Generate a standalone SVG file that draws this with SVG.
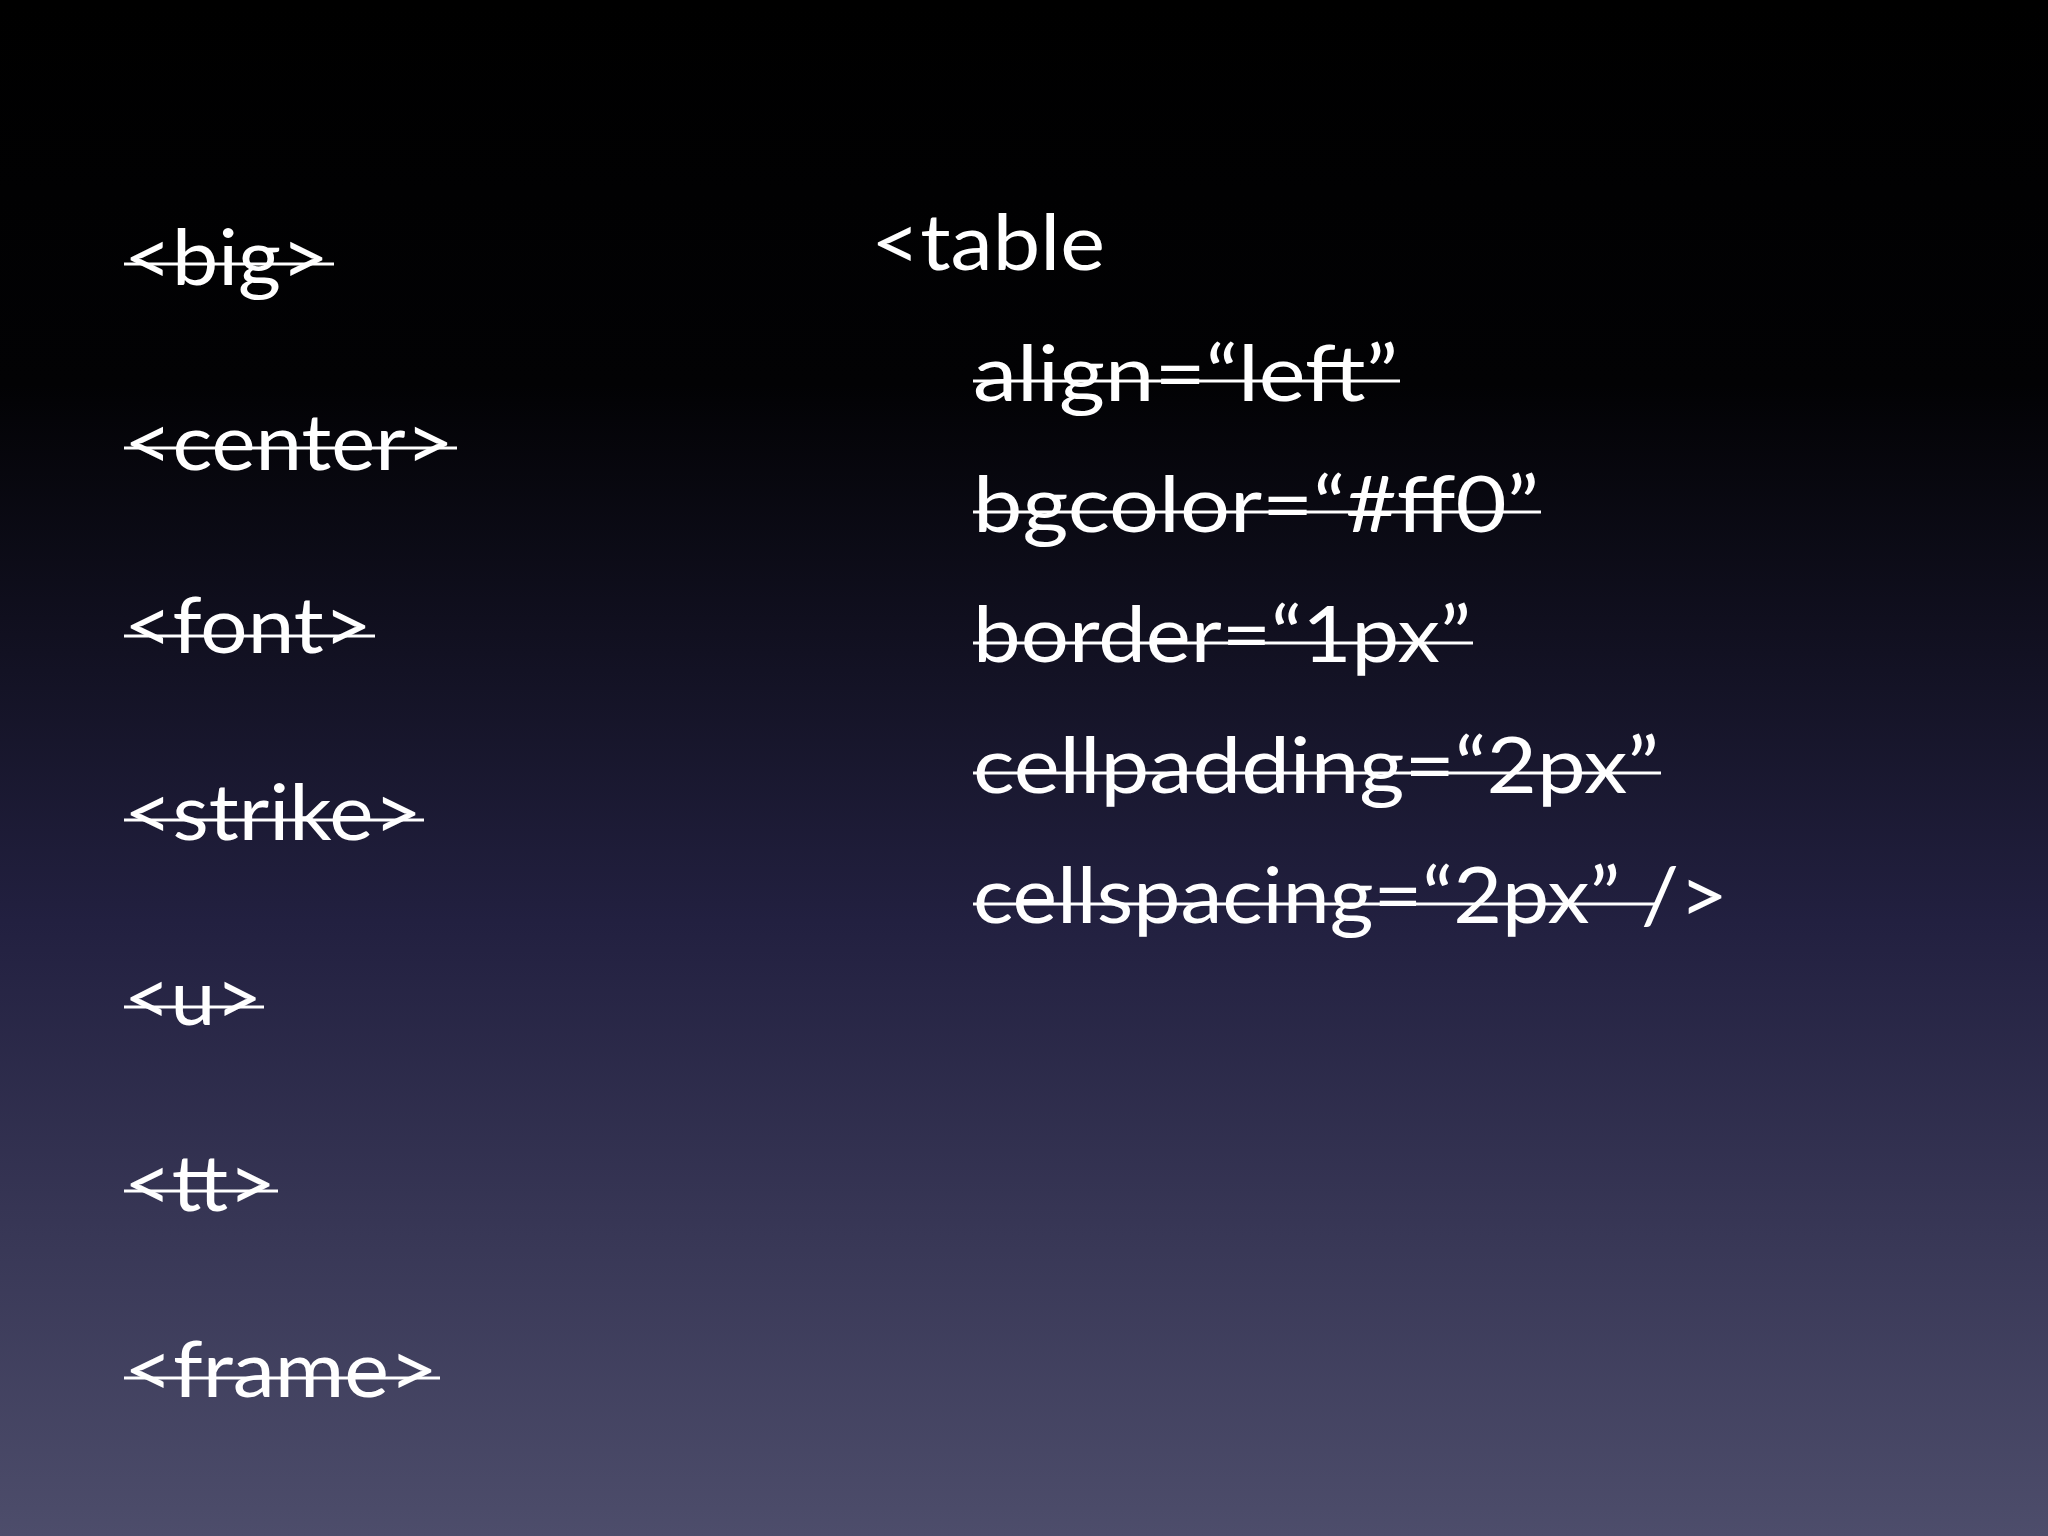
<svg xmlns="http://www.w3.org/2000/svg" width="2048" height="1536" viewBox="0 0 2048 1536">
<defs>
<linearGradient id="bg" x1="0" y1="0" x2="0" y2="1">
<stop offset="0" stop-color="#000000"/>
<stop offset="0.25" stop-color="#020204"/>
<stop offset="0.6" stop-color="#222040"/>
<stop offset="1" stop-color="#4d4d6b"/>
</linearGradient>
</defs>
<style>
text{font-family:"Lato","Open Sans",sans-serif;font-size:78px;fill:#fff}
line{stroke:#fff;stroke-width:3}
</style>
<rect width="2048" height="1536" fill="url(#bg)"/>
<g id="left">
<text x="124" y="285" textLength="205" lengthAdjust="spacingAndGlyphs">&lt;big&gt;</text><line x1="124" y1="264" x2="334" y2="264"/>
<text x="124" y="470" textLength="330" lengthAdjust="spacingAndGlyphs">&lt;center&gt;</text><line x1="124" y1="448" x2="457" y2="448"/>
<text x="124" y="653" textLength="248" lengthAdjust="spacingAndGlyphs">&lt;font&gt;</text><line x1="124" y1="636" x2="375" y2="636"/>
<text x="124" y="840" textLength="298" lengthAdjust="spacingAndGlyphs">&lt;strike&gt;</text><line x1="124" y1="820" x2="424" y2="820"/>
<text x="124" y="1025" textLength="138" lengthAdjust="spacingAndGlyphs">&lt;u&gt;</text><line x1="124" y1="1007" x2="264" y2="1007"/>
<text x="124" y="1211" textLength="152" lengthAdjust="spacingAndGlyphs">&lt;tt&gt;</text><line x1="124" y1="1191" x2="278" y2="1191"/>
<text x="124" y="1397" textLength="314" lengthAdjust="spacingAndGlyphs">&lt;frame&gt;</text><line x1="124" y1="1378" x2="440" y2="1378"/>
</g>
<g id="right">
<text x="871" y="270" textLength="234" lengthAdjust="spacingAndGlyphs">&lt;table</text>
<text x="973" y="401" textLength="425" lengthAdjust="spacingAndGlyphs">align=“left”</text><line x1="973" y1="381" x2="1400" y2="381"/>
<text x="973" y="532" textLength="566" lengthAdjust="spacingAndGlyphs">bgcolor=“#ff0”</text><line x1="973" y1="512" x2="1541" y2="512"/>
<text x="973" y="662" textLength="498" lengthAdjust="spacingAndGlyphs">border=“1px”</text><line x1="973" y1="643" x2="1473" y2="643"/>
<text x="973" y="793" textLength="686" lengthAdjust="spacingAndGlyphs">cellpadding=“2px”</text><line x1="973" y1="773" x2="1661" y2="773"/>
<text x="973" y="923" textLength="755" lengthAdjust="spacingAndGlyphs">cellspacing=“2px” /&gt;</text><line x1="973" y1="904" x2="1659" y2="904"/>
</g>
</svg>
